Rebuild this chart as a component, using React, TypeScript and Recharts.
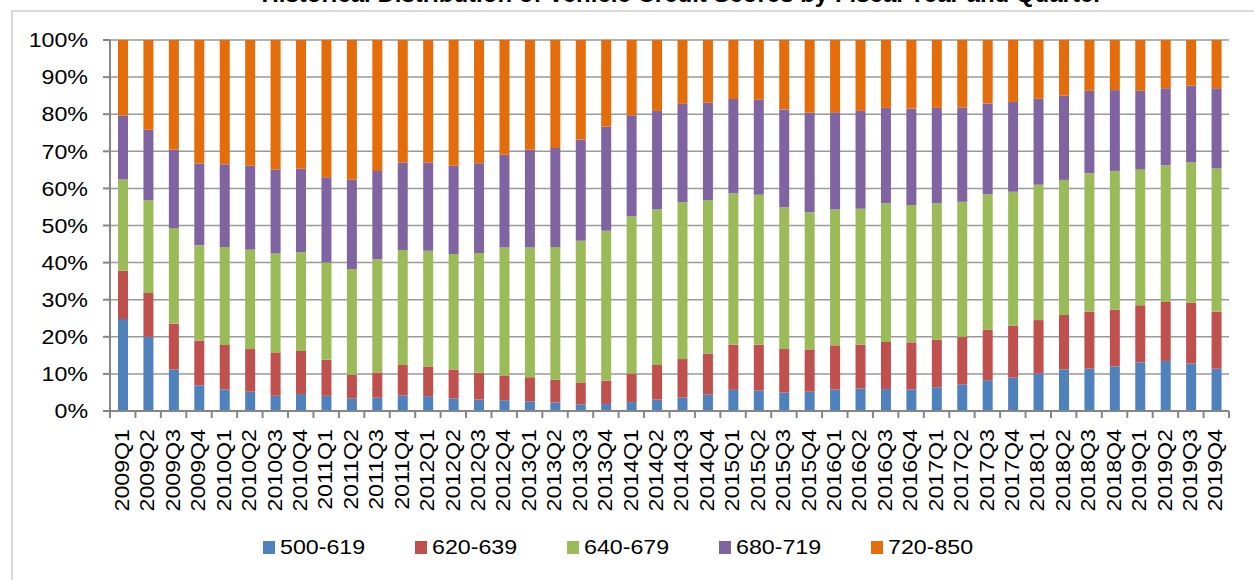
import React from "react";
import { BarChart, Bar, XAxis, YAxis, CartesianGrid, Legend } from "recharts";

const quarters = [
  "2009Q1", "2009Q2", "2009Q3", "2009Q4",
  "2010Q1", "2010Q2", "2010Q3", "2010Q4",
  "2011Q1", "2011Q2", "2011Q3", "2011Q4",
  "2012Q1", "2012Q2", "2012Q3", "2012Q4",
  "2013Q1", "2013Q2", "2013Q3", "2013Q4",
  "2014Q1", "2014Q2", "2014Q3", "2014Q4",
  "2015Q1", "2015Q2", "2015Q3", "2015Q4",
  "2016Q1", "2016Q2", "2016Q3", "2016Q4",
  "2017Q1", "2017Q2", "2017Q3", "2017Q4",
  "2018Q1", "2018Q2", "2018Q3", "2018Q4",
  "2019Q1", "2019Q2", "2019Q3", "2019Q4",
];

// share of each score band per quarter (%)
const s500_619 = [
  24.8, 20.0, 11.2, 6.9, 5.8, 5.2, 4.1, 4.6, 4.1, 3.4, 3.6, 4.2,
  4.0, 3.4, 3.1, 2.9, 2.6, 2.3, 1.8, 1.9, 2.4, 3.1, 3.6, 4.4,
  5.7, 5.5, 5.0, 5.2, 5.8, 6.1, 5.9, 5.8, 6.4, 7.2, 8.3, 9.0,
  10.1, 11.2, 11.4, 12.0, 13.1, 13.5, 12.8, 11.4,
];
const s620_639 = [
  13.0, 11.8, 12.3, 12.1, 12.0, 11.5, 11.7, 11.6, 9.7, 6.4, 6.8, 8.2,
  8.0, 7.8, 7.2, 6.7, 6.5, 6.1, 5.9, 6.3, 7.7, 9.3, 10.4, 11.1,
  12.2, 12.4, 11.7, 11.4, 11.9, 11.8, 12.7, 12.7, 12.8, 12.8, 13.6, 14.0,
  14.4, 14.7, 15.4, 15.3, 15.4, 15.9, 16.4, 15.4,
];
const s640_679 = [
  24.6, 25.0, 25.8, 25.7, 26.4, 26.8, 26.7, 26.6, 26.2, 28.5, 30.5, 31.0,
  31.2, 31.1, 32.3, 34.5, 35.0, 35.8, 38.2, 40.4, 42.4, 42.0, 42.3, 41.4,
  40.8, 40.4, 38.2, 37.0, 36.6, 36.6, 37.4, 37.0, 36.8, 36.4, 36.5, 36.1,
  36.5, 36.4, 37.3, 37.4, 36.7, 36.8, 37.8, 38.6,
];
const s680_719 = [
  17.2, 19.0, 21.1, 22.0, 22.3, 22.6, 22.6, 22.5, 23.0, 24.0, 23.8, 23.6,
  23.8, 23.8, 24.2, 25.0, 26.3, 26.7, 27.3, 28.0, 27.2, 26.5, 26.5, 26.2,
  25.4, 25.6, 26.4, 26.8, 26.2, 26.4, 25.7, 26.0, 25.7, 25.4, 24.5, 24.2,
  23.2, 22.7, 22.2, 21.8, 21.1, 20.8, 20.7, 21.6,
];
const s720_850 = [
  20.4, 24.2, 29.6, 33.3, 33.5, 33.9, 34.9, 34.7, 37.0, 37.7, 35.3, 33.0,
  33.0, 33.9, 33.2, 30.9, 29.6, 29.1, 26.8, 23.4, 20.3, 19.1, 17.2, 16.9,
  15.9, 16.1, 18.7, 19.6, 19.5, 19.1, 18.3, 18.5, 18.3, 18.2, 17.1, 16.7,
  15.8, 15.0, 13.7, 13.5, 13.7, 13.0, 12.3, 13.0,
];

const yTicks = [0, 0.1, 0.2, 0.3, 0.4, 0.5, 0.6, 0.7, 0.8, 0.9, 1];

const series = [
  { key: "b1", name: "500-619", color: "#4F81BD", values: s500_619 },
  { key: "b2", name: "620-639", color: "#C0504D", values: s620_639 },
  { key: "b3", name: "640-679", color: "#9BBB59", values: s640_679 },
  { key: "b4", name: "680-719", color: "#8064A2", values: s680_719 },
  { key: "b5", name: "720-850", color: "#E46C0A", values: s720_850 },
];

const data = quarters.map((q, i) => {
  const row: Record<string, string | number> = { quarter: q };
  series.forEach((s) => {
    row[s.key] = s.values[i];
  });
  return row;
});

const FONT = "'Liberation Sans', Arial, sans-serif";
const AXIS = "#868686";
const STRETCH = 1.16;

const YTick = (props: any) => {
  const { x, y, payload } = props;
  return (
    <g transform={`translate(${x},${y}) scale(${STRETCH},1)`}>
      <text textAnchor="end" dy="0.36em" fontSize={20} fontFamily={FONT} fill="#000">
        {`${Math.round(payload.value * 100)}%`}
      </text>
    </g>
  );
};

const XTick = (props: any) => {
  const { x, y, payload, index, width, visibleTicksCount } = props;
  const n = visibleTicksCount || quarters.length;
  const band = (width || 1119) / n;
  const left = x - band / 2;
  return (
    <g>
      <line x1={left} y1={y} x2={left} y2={y + 7} stroke={AXIS} strokeWidth={2} />
      {index === n - 1 && (
        <line x1={x + band / 2} y1={y} x2={x + band / 2} y2={y + 7} stroke={AXIS} strokeWidth={2} />
      )}
      <g transform={`translate(${x - 1},${y + 18}) rotate(-90) scale(${STRETCH},1)`}>
        <text textAnchor="end" dy="0.36em" fontSize={20} fontFamily={FONT} fill="#000">
          {payload.value}
        </text>
      </g>
    </g>
  );
};

const LegendContent = (props: any) => {
  const items = props.payload || [];
  return (
    <div style={{ display: "flex", fontFamily: FONT, fontSize: 20 }}>
      {items.map((it: any) => (
        <div key={it.value} style={{ width: 152, display: "flex", alignItems: "center" }}>
          <span style={{ width: 12, height: 13, background: it.color, display: "inline-block", marginRight: 5 }} />
          <span style={{ display: "inline-block", transform: `scaleX(${STRETCH})`, transformOrigin: "left center" }}>
            {it.value}
          </span>
        </div>
      ))}
    </div>
  );
};

export default function App() {
  return (
    <div style={{ position: "fixed", left: 0, top: 0, width: 1254, height: 580, overflow: "hidden", background: "#fff" }}>
      <div
        style={{
          position: "absolute",
          top: -18,
          left: 0,
          width: 1364,
          textAlign: "center",
          fontFamily: FONT,
          fontWeight: "bold",
          fontSize: 24,
          lineHeight: "24px",
          whiteSpace: "nowrap",
        }}
      >
        Historical Distribution of Vehicle Credit Scores by Fiscal Year and Quarter
      </div>
      <div
        style={{
          position: "absolute",
          left: 11,
          top: 10,
          width: 1300,
          height: 620,
          border: "2px solid #d9d9d9",
          boxSizing: "border-box",
        }}
      />
      <div style={{ position: "absolute", left: 0, top: 0 }}>
        <BarChart
          width={1254}
          height={580}
          data={data}
          stackOffset="expand"
          margin={{ top: 40, right: 25, left: 0, bottom: 0 }}
        >
          <CartesianGrid vertical={false} stroke="#9a9a9a" strokeWidth={1.5} />
          <XAxis
            dataKey="quarter"
            interval={0}
            height={169}
            tickLine={false}
            tickSize={0}
            tickMargin={0}
            axisLine={{ stroke: AXIS, strokeWidth: 2 }}
            tick={<XTick />}
          />
          <YAxis
            width={110}
            domain={[0, 1]}
            ticks={yTicks}
            interval={0}
            tickSize={7}
            tickMargin={15}
            tickLine={{ stroke: AXIS, strokeWidth: 2 }}
            axisLine={{ stroke: AXIS, strokeWidth: 2 }}
            tick={<YTick />}
          />
          <Legend
            layout="horizontal"
            verticalAlign="middle"
            align="center"
            content={<LegendContent />}
            wrapperStyle={{ top: 536, left: 263, width: 800 }}
          />
          {series.map((s) => (
            <Bar
              key={s.key}
              dataKey={s.key}
              name={s.name}
              stackId="a"
              fill={s.color}
              barSize={10}
              isAnimationActive={false}
            />
          ))}
        </BarChart>
      </div>
    </div>
  );
}
